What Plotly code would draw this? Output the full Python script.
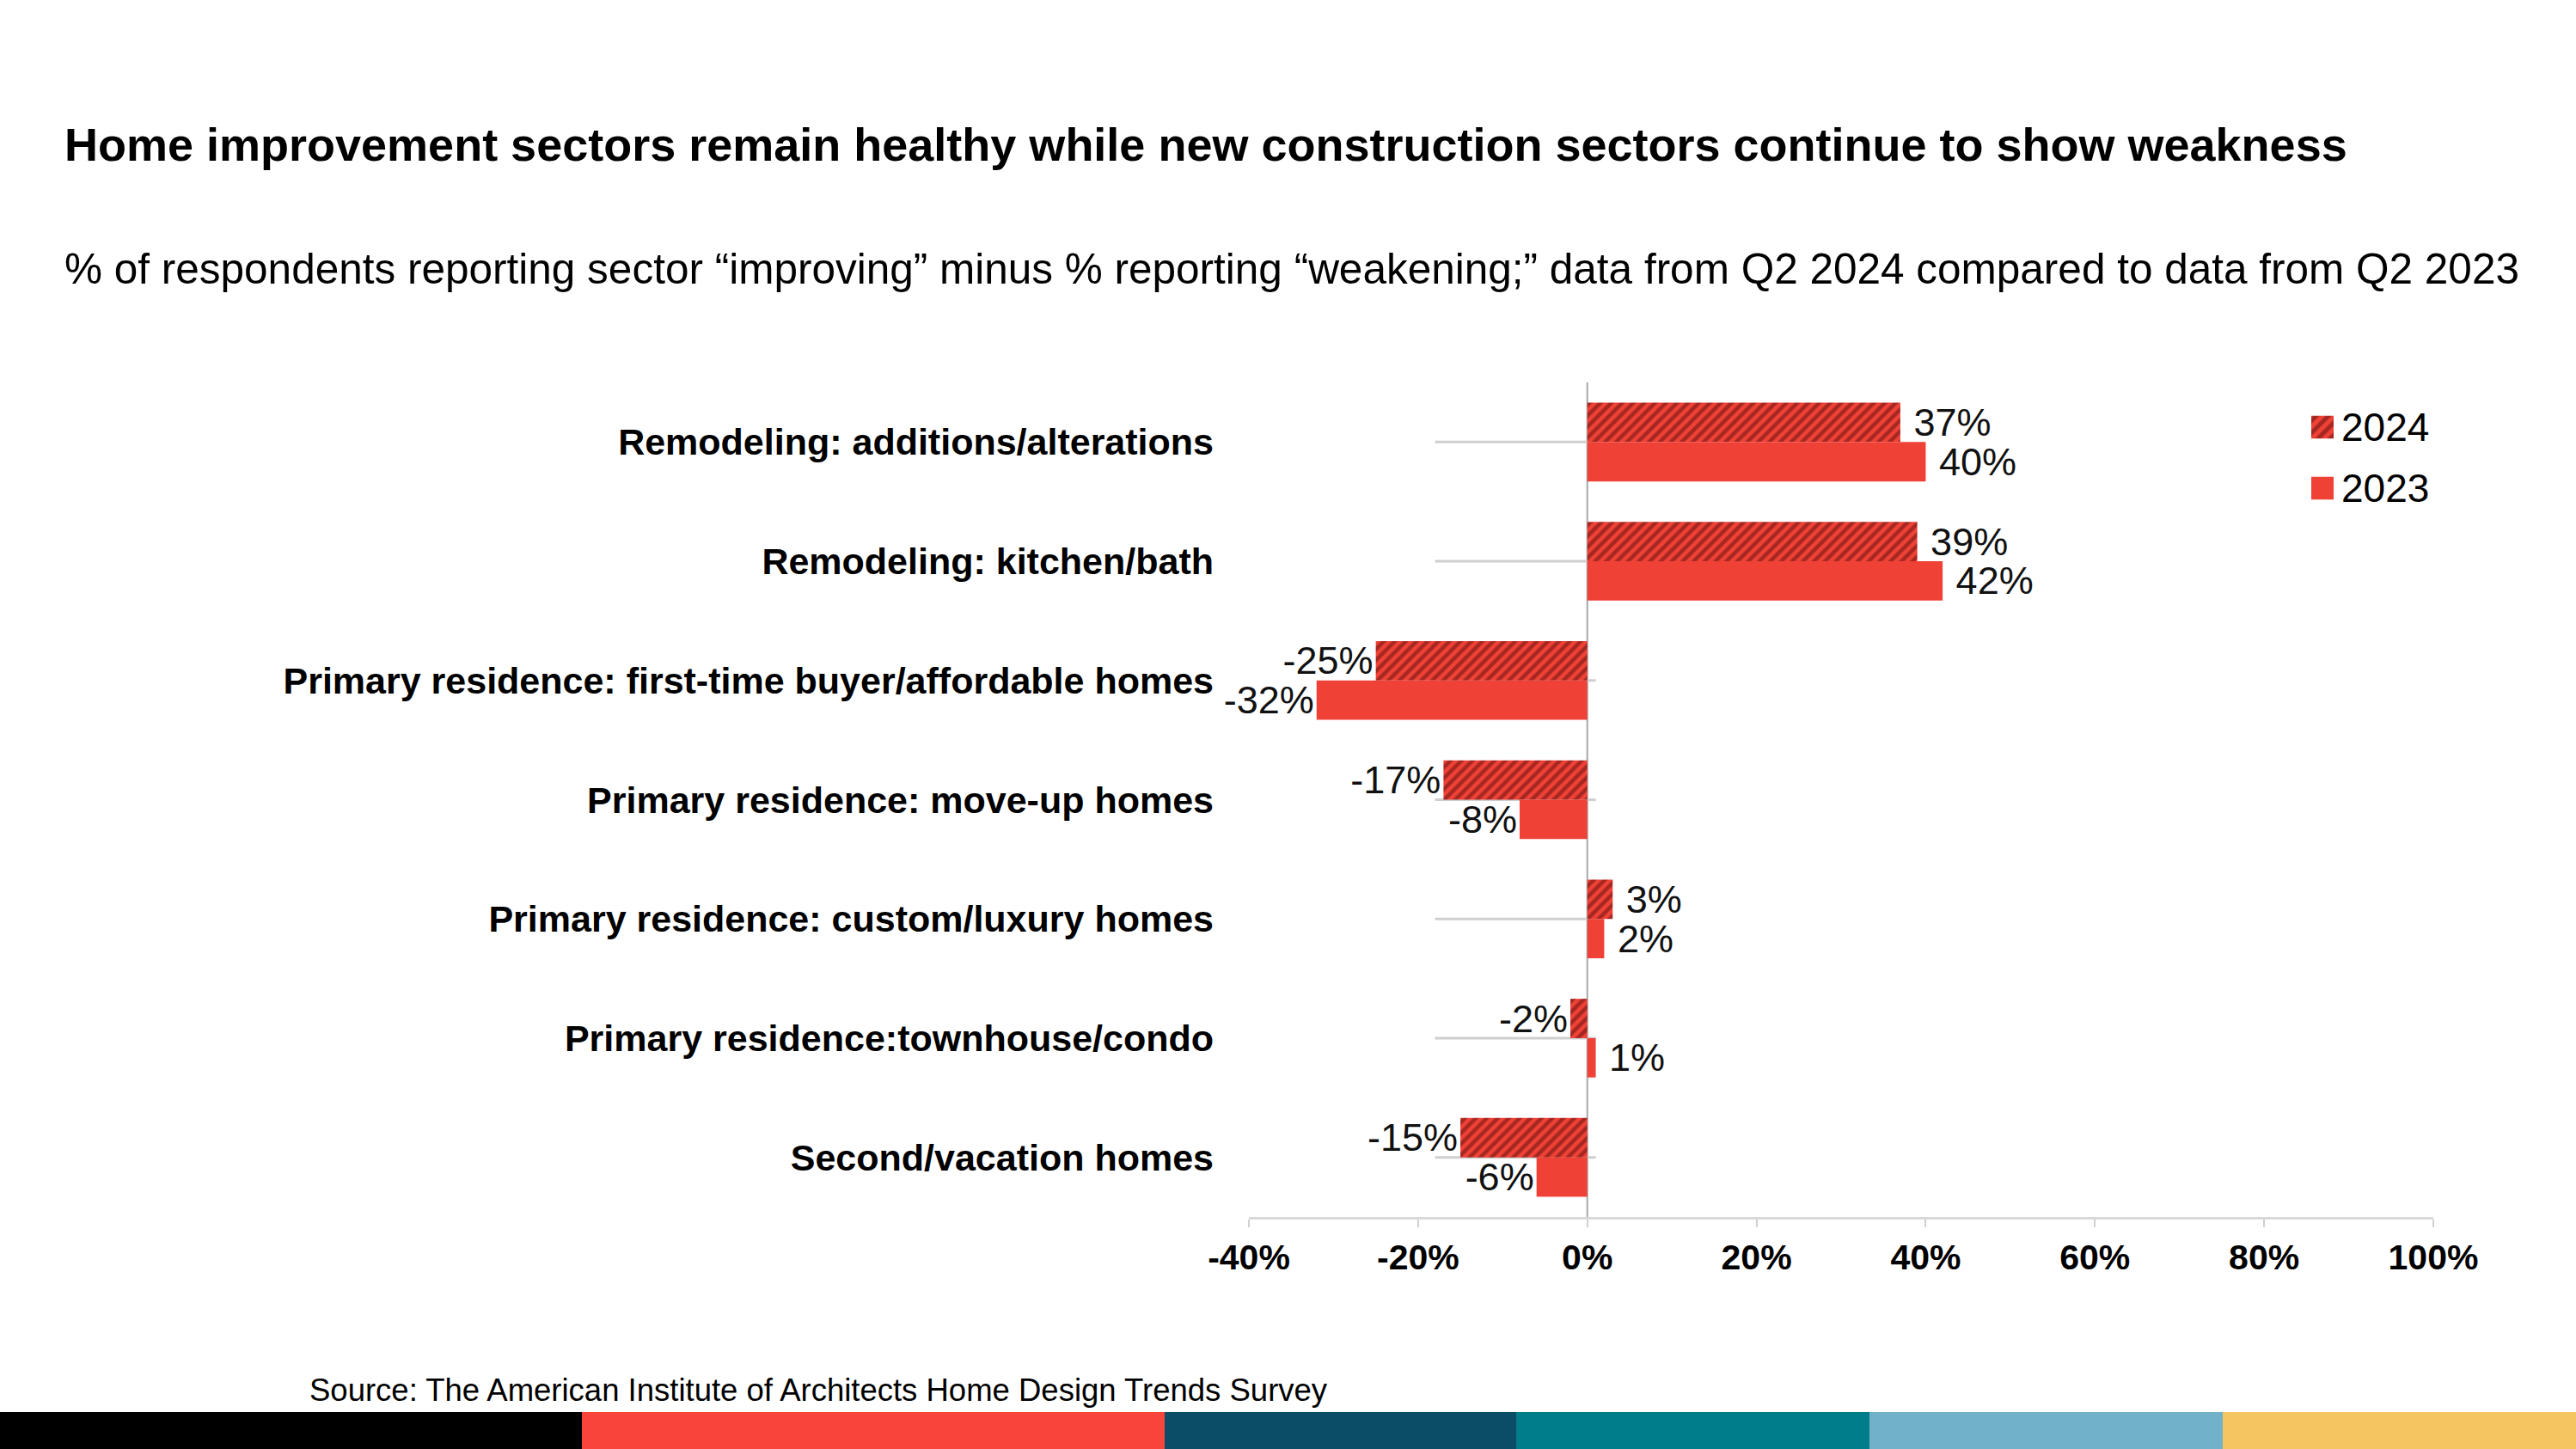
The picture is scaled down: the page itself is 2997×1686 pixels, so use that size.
import plotly.graph_objects as go

categories = [
    "Remodeling: additions/alterations",
    "Remodeling: kitchen/bath",
    "Primary residence: first-time buyer/affordable homes",
    "Primary residence: move-up homes",
    "Primary residence: custom/luxury homes",
    "Primary residence:townhouse/condo",
    "Second/vacation homes",
]
values_2024 = [37, 39, -25, -17, 3, -2, -15]
values_2023 = [40, 42, -32, -8, 2, 1, -6]
x_ticks = [-40, -20, 0, 20, 40, 60, 80, 100]
x_tick_labels = ["-40%", "-20%", "0%", "20%", "40%", "60%", "80%", "100%"]
series_names = ["2024", "2023"]

title = "Home improvement sectors remain healthy while new construction sectors continue to show weakness"
subtitle = "% of respondents reporting sector \u201cimproving\u201d minus % reporting \u201cweakening;\u201d data from Q2 2024 compared to data from Q2 2023"
source = "Source: The American Institute of Architects Home Design Trends Survey"
stripe_colors = ["#000000", "#F8443A", "#0B4D66", "#007D8A", "#71B1C9", "#F3C662"]
stripe_edges = [0, 677, 1355, 1764, 2175, 2586, 2997]

FONT = "Liberation Sans"
RED = "#EF4136"
HATCH = dict(shape="/", fgcolor="#5E0E0C", bgcolor=RED, size=9, solidity=0.5)

W, H = 2997, 1686
L, R, T, B = 1453, 166, 445, 270
PW, PH = W - L - R, H - T - B


def px(x):
    return (x - L) / PW


def py(y):
    return (H - B - y) / PH


def fmt(v):
    return f"\u00a0{v}%" if v >= 0 else f"{v}%"


fig = go.Figure()
fig.add_trace(go.Bar(
    name=series_names[0], y=categories, x=values_2024, orientation="h",
    marker=dict(color=RED, line=dict(width=0), pattern=HATCH),
    text=[fmt(v) for v in values_2024], textposition="outside",
    textfont=dict(family=FONT, size=45, color="#111"),
    cliponaxis=False, constraintext="none", showlegend=False,
))
fig.add_trace(go.Bar(
    name=series_names[1], y=categories, x=values_2023, orientation="h",
    marker=dict(color=RED, line=dict(width=0)),
    text=[fmt(v) for v in values_2023], textposition="outside",
    textfont=dict(family=FONT, size=45, color="#111"),
    cliponaxis=False, constraintext="none", showlegend=False,
))

# legend glyphs drawn as bars on a small auxiliary axis
fig.add_trace(go.Bar(
    y=[series_names[0]], x=[1], orientation="h", xaxis="x2", yaxis="y2",
    marker=dict(color=RED, line=dict(width=0), pattern=dict(HATCH, size=10)),
    width=0.37, showlegend=False, hoverinfo="skip",
))
fig.add_trace(go.Bar(
    y=[series_names[1]], x=[1], orientation="h", xaxis="x2", yaxis="y2",
    marker=dict(color=RED, line=dict(width=0)),
    width=0.37, showlegend=False, hoverinfo="skip",
))

shapes = []
for c in categories:
    shapes.append(dict(type="line", xref="x", yref="y", x0=-18, x1=1, y0=c, y1=c,
                       line=dict(color="#CFCFCF", width=3), layer="below"))
for i, col in enumerate(stripe_colors):
    shapes.append(dict(type="rect", xref="paper", yref="paper",
                       x0=px(stripe_edges[i]), x1=px(stripe_edges[i + 1]),
                       y0=py(1690), y1=py(1643), fillcolor=col, line=dict(width=0), layer="above"))
shapes.append(dict(type="line", xref="x", yref="paper", x0=0, x1=0, y0=0, y1=1,
                   line=dict(color="#A8A8A8", width=2), layer="below"))

annotations = [
    dict(text="<b>" + title + "</b>", x=px(73), y=py(168), xref="paper", yref="paper",
         xanchor="left", yanchor="middle", showarrow=False,
         font=dict(family=FONT, size=54, color="#000")),
    dict(text=subtitle, x=px(73), y=py(312), xref="paper", yref="paper",
         xanchor="left", yanchor="middle", showarrow=False,
         font=dict(family=FONT, size=49.5, color="#000")),
    dict(text=source, x=px(358), y=py(1617), xref="paper", yref="paper",
         xanchor="left", yanchor="middle", showarrow=False,
         font=dict(family=FONT, size=36.5, color="#000")),
]
for name, ypix in zip(series_names, [497, 568]):
    annotations.append(dict(text=name, x=px(2722), y=py(ypix), xref="paper", yref="paper",
                            xanchor="left", yanchor="middle", showarrow=False,
                            font=dict(family=FONT, size=46, color="#000")))

fig.update_layout(
    width=W, height=H,
    margin=dict(l=L, r=R, t=T, b=B),
    paper_bgcolor="white", plot_bgcolor="white",
    barmode="group", bargap=0.34, bargroupgap=0.0,
    font=dict(family=FONT, color="#000"),
    showlegend=False,
    shapes=shapes,
    annotations=annotations,
    xaxis=dict(
        range=[-40, 100], tickvals=x_ticks, ticktext=x_tick_labels,
        tickfont=dict(family=FONT, size=41, color="#000", weight="bold"),
        showgrid=False, showline=True, linecolor="#D9D9D9", linewidth=3,
        ticks="outside", ticklen=9, tickcolor="#D0D0D0", tickwidth=2,
        zeroline=False, fixedrange=True,
    ),
    yaxis=dict(
        type="category", categoryorder="array", categoryarray=categories,
        autorange="reversed", showgrid=False, showline=False, ticks="",
        tickfont=dict(family=FONT, size=43, color="#000", weight="bold"),
        ticklabelstandoff=40, zeroline=False, fixedrange=True,
    ),
    xaxis2=dict(domain=[px(2689), px(2715)], range=[0, 1], anchor="y2", visible=False,
                fixedrange=True),
    yaxis2=dict(domain=[py(603.5), py(461.5)], range=[1.5, -0.5], anchor="x2", visible=False,
                type="category", categoryorder="array", categoryarray=series_names,
                fixedrange=True),
)

fig.write_html("out.html", post_script="document.body.style.margin='0';",
               config={"displayModeBar": False})
